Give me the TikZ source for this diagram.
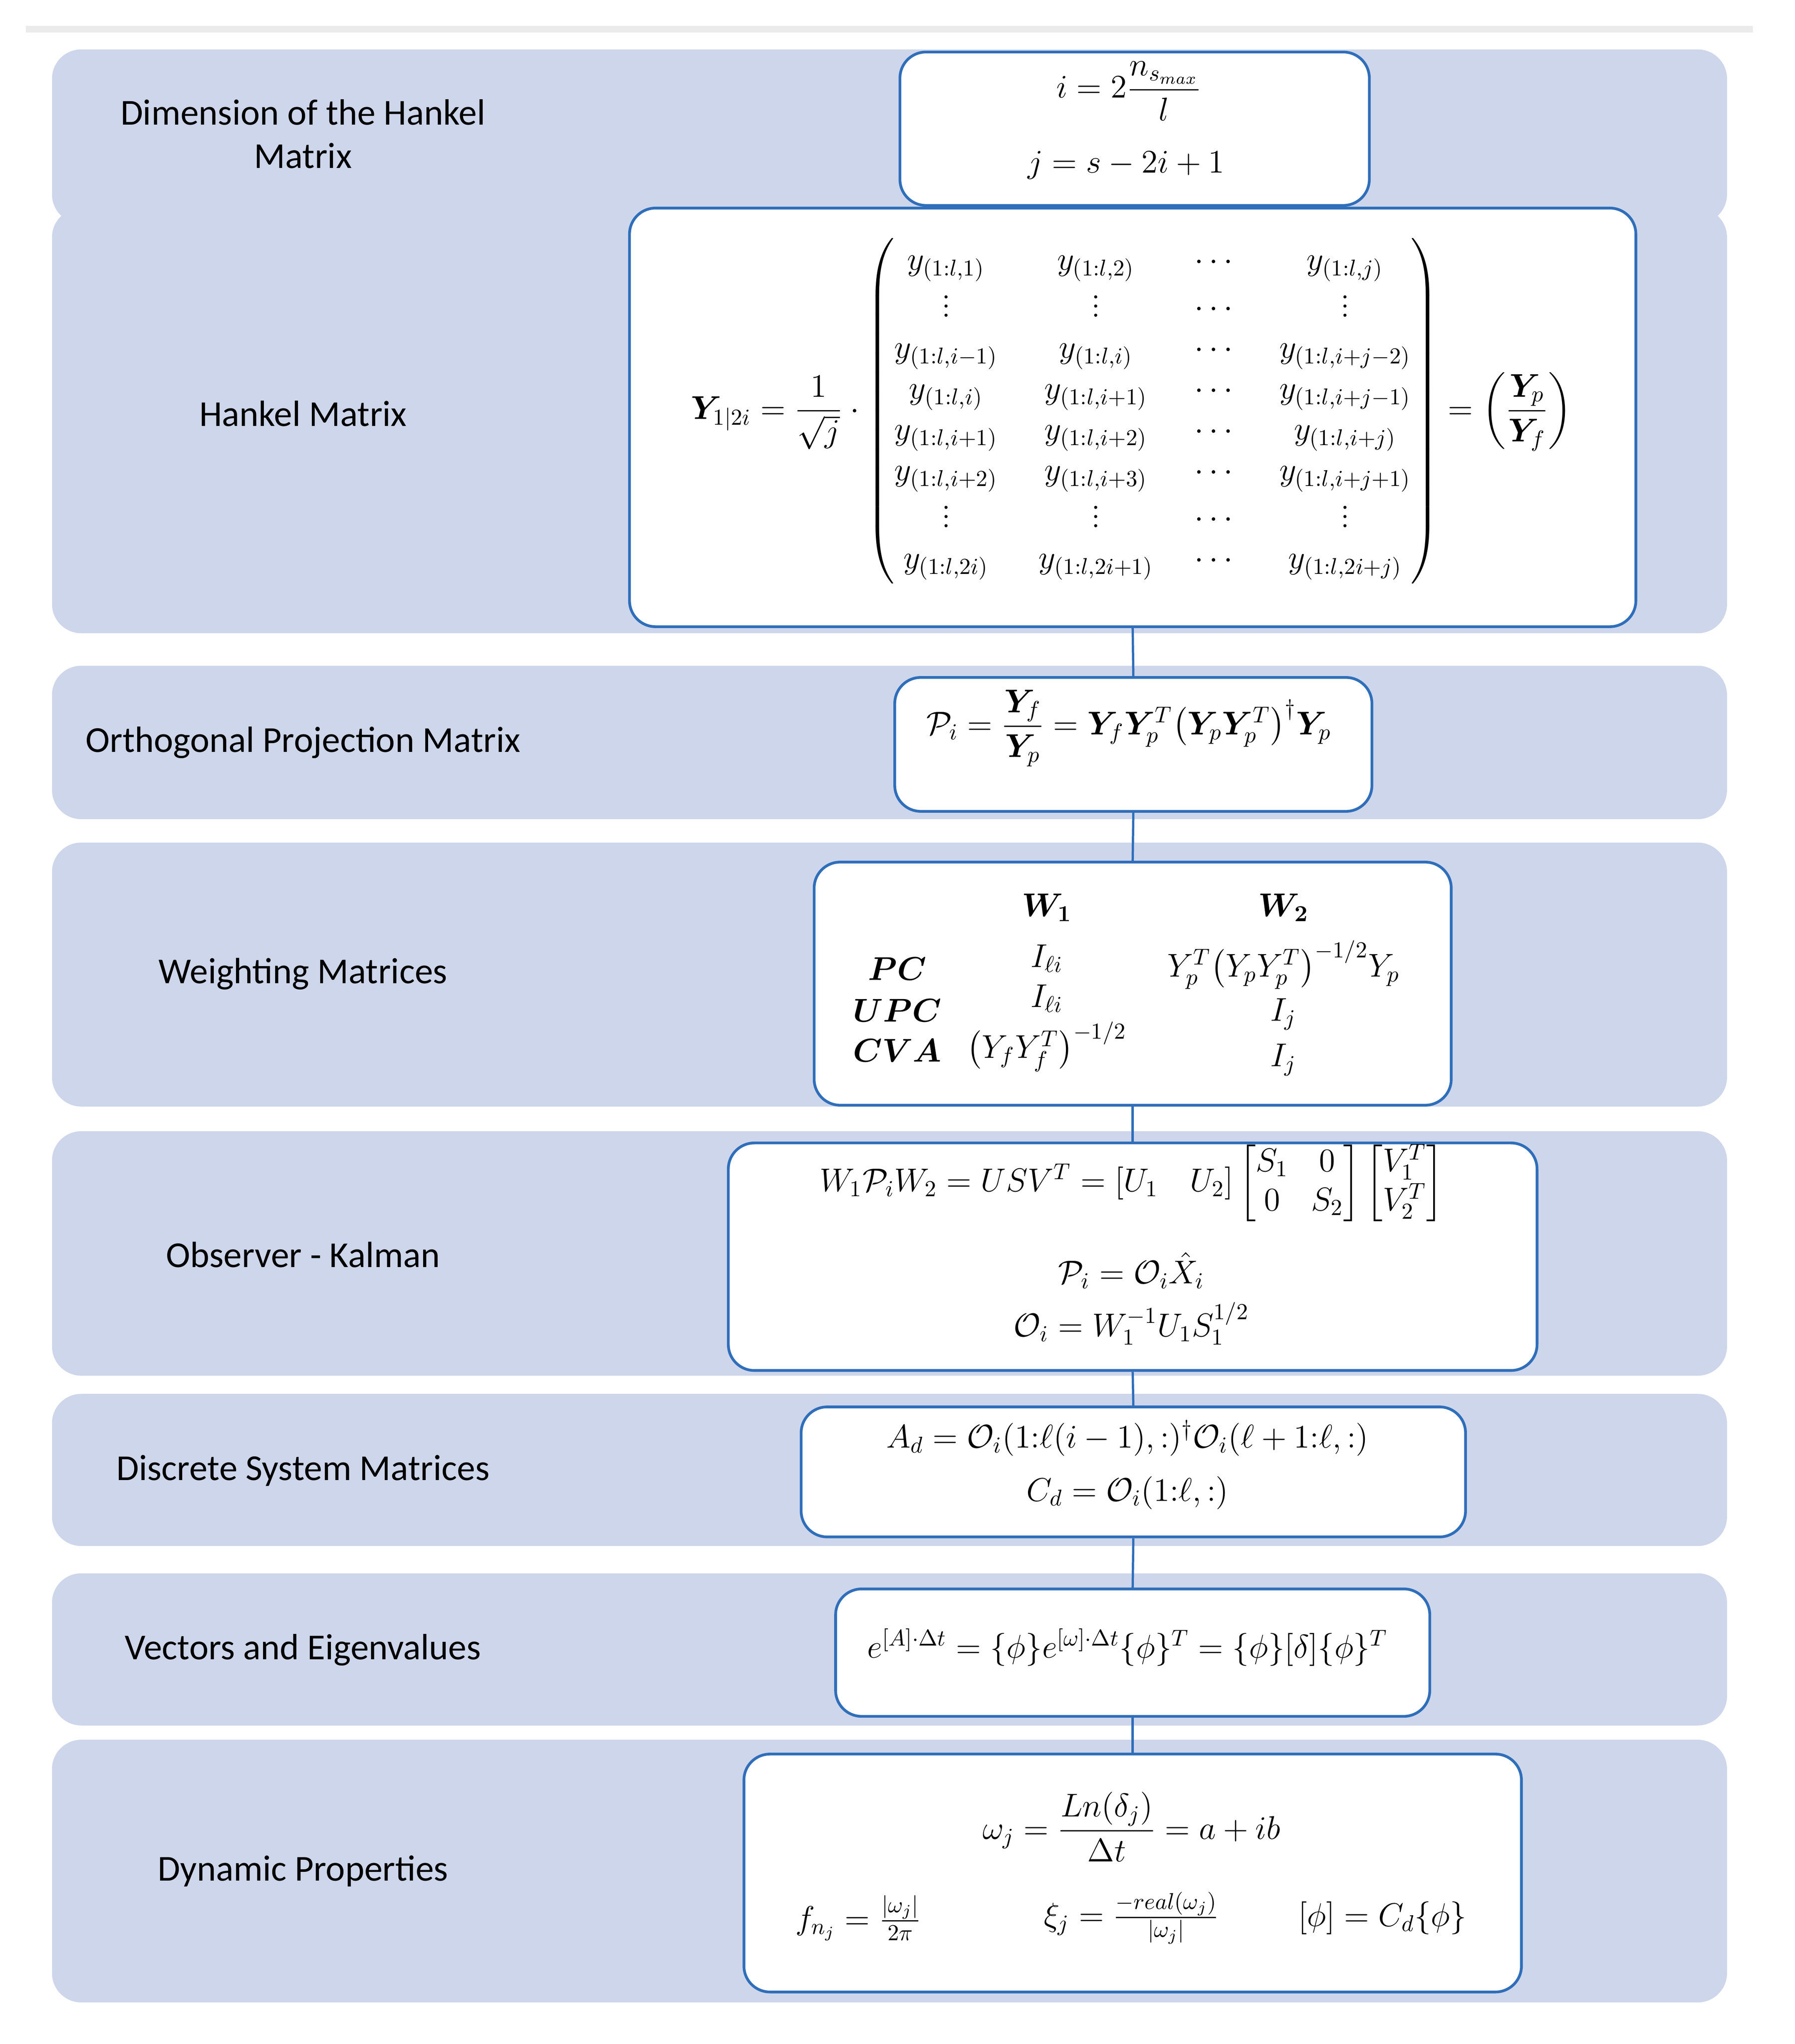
\documentclass[tikz,border=0pt]{standalone}
\usepackage{amsmath,amssymb,bm}
\usepackage{fontspec}
\newfontfamily\lblfont{Carlito}
\definecolor{bandc}{HTML}{CDD6EA}
\definecolor{bordc}{HTML}{2F6EBA}
\begin{document}
\begin{tikzpicture}[x=0.02cm,y=-0.02cm,
  band/.style={fill=bandc,rounded corners=0.45cm},
  wbox/.style={draw=bordc,fill=white,line width=1.2pt,rounded corners=0.4cm,inner sep=0pt},
  lbl/.style={font=\lblfont\fontsize{16}{19}\selectfont,align=center},
  eq/.style={font=\fontsize{14}{17}\selectfont,inner sep=0pt},
  conn/.style={draw=bordc,line width=1pt}]
\useasboundingbox (0,0) rectangle (1380,1572);
\fill[black!8] (20,20) rectangle (1348,25);
% bands
\fill[band] (40,38) rectangle (1328,172);
\fill[band] (40,160) rectangle (1328,487);
\fill[band] (40,512) rectangle (1328,630);
\fill[band] (40,648) rectangle (1328,851);
\fill[band] (40,870) rectangle (1328,1058);
\fill[band] (40,1072) rectangle (1328,1189);
\fill[band] (40,1210) rectangle (1328,1327);
\fill[band] (40,1338) rectangle (1328,1540);
% labels
\node[lbl] (l1) at (233,103) {Dimension of the Hankel\\Matrix};
\node[lbl] (l2) at (233,318) {Hankel Matrix};
\node[lbl] (l3) at (233,571) {Orthogonal Projection Matrix};
\node[lbl] (l4) at (233,749) {Weighting Matrices};
\node[lbl] (l5) at (233,965) {Observer - Kalman};
\node[lbl] (l6) at (233,1131) {Discrete System Matrices};
\node[lbl] (l7) at (233,1269) {Vectors and Eigenvalues};
\node[lbl] (l8) at (233,1439) {Dynamic Properties};
% boxes
\node[wbox,minimum width=7.22cm,minimum height=2.36cm] (b1) at (872.5,99) {};
\node[wbox,minimum width=15.48cm,minimum height=6.44cm] (b2) at (871,321) {};
\node[wbox,minimum width=7.34cm,minimum height=2.06cm] (b3) at (871.5,572.5) {};
\node[wbox,minimum width=9.8cm,minimum height=3.74cm] (b4) at (871,756.5) {};
\node[wbox,minimum width=12.44cm,minimum height=3.5cm] (b5) at (871,966.5) {};
\node[wbox,minimum width=10.22cm,minimum height=2.0cm] (b6) at (871.5,1132) {};
\node[wbox,minimum width=9.14cm,minimum height=1.96cm] (b7) at (871,1271) {};
\node[wbox,minimum width=11.96cm,minimum height=3.66cm] (b8) at (871,1440.5) {};
\draw[conn] (b2.south) -- (b3.north);
\draw[conn] (b3.south) -- (b4.north);
\draw[conn] (b4.south) -- (b5.north);
\draw[conn] (b5.south) -- (b6.north);
\draw[conn] (b6.south) -- (b7.north);
\draw[conn] (b7.south) -- (b8.north);
% box 1
\node[eq] (e1a) at (868,70) {$i=2\dfrac{n_{s_{max}}}{l}$};
\node[eq] (e1b) at (866,127) {$j=s-2i+1$};
% box 2
\node[eq,font=\fontsize{14}{17}\selectfont] (e2) at (870,316) {$\bm{Y}_{1|2i}=\dfrac{1}{\sqrt{j}}\cdot
\renewcommand{\arraystretch}{1.05}\setlength{\arraycolsep}{9pt}
\begin{pmatrix}
y_{(1:l,1)} & y_{(1:l,2)} & \cdots & y_{(1:l,j)}\\
\vdots & \vdots & \cdots & \vdots\\
y_{(1:l,i-1)} & y_{(1:l,i)} & \cdots & y_{(1:l,i+j-2)}\\
y_{(1:l,i)} & y_{(1:l,i+1)} & \cdots & y_{(1:l,i+j-1)}\\
y_{(1:l,i+1)} & y_{(1:l,i+2)} & \cdots & y_{(1:l,i+j)}\\
y_{(1:l,i+2)} & y_{(1:l,i+3)} & \cdots & y_{(1:l,i+j+1)}\\
\vdots & \vdots & \cdots & \vdots\\
y_{(1:l,2i)} & y_{(1:l,2i+1)} & \cdots & y_{(1:l,2i+j)}
\end{pmatrix}=\left(\dfrac{\bm{Y}_p}{\bm{Y}_f}\right)$};
% box 3
\node[eq] (e3) at (868,560) {$\mathcal{P}_i=\dfrac{\bm{Y}_f}{\bm{Y}_p}=\bm{Y}_f\bm{Y}_p^T\big(\bm{Y}_p\bm{Y}_p^T\big)^{\dagger}\bm{Y}_p$};
% box 4
\node[eq] (w1) at (805,698) {$\bm{W_1}$};
\node[eq] (w2) at (987,698) {$\bm{W_2}$};
\node[eq] (pc) at (690,745) {$\bm{PC}$};
\node[eq] (upc) at (690,777) {$\bm{UPC}$};
\node[eq] (cva) at (690,808) {$\bm{CVA}$};
\node[eq] (w1a) at (805,737) {$I_{\ell i}$};
\node[eq] (w1b) at (805,768) {$I_{\ell i}$};
\node[eq] (w1c) at (805,805) {$\big(Y_fY_f^T\big)^{-1/2}$};
\node[eq] (w2a) at (987,742) {$Y_p^T\big(Y_pY_p^T\big)^{-1/2}Y_p$};
\node[eq] (w2b) at (987,780) {$I_j$};
\node[eq] (w2c) at (987,815) {$I_j$};
% box 5
\node[eq] (e5a) at (870,910) {$W_1\mathcal{P}_iW_2=USV^T=[U_1\quad U_2]\begin{bmatrix}S_1&0\\0&S_2\end{bmatrix}\begin{bmatrix}V_1^T\\V_2^T\end{bmatrix}$};
\node[eq] (e5b) at (870,977) {$\mathcal{P}_i=\mathcal{O}_i\hat{X}_i$};
\node[eq] (e5c) at (870,1018) {$\mathcal{O}_i=W_1^{-1}U_1S_1^{1/2}$};
% box 6
\node[eq] (e6a) at (867,1106) {$A_d=\mathcal{O}_i(1{:}\ell(i-1),:)^{\dagger}\mathcal{O}_i(\ell+1{:}\ell,:)$};
\node[eq] (e6b) at (867,1148) {$C_d=\mathcal{O}_i(1{:}\ell,:)$};
% box 7
\node[eq] (e7) at (867,1267) {$e^{[A]\cdot\Delta t}=\{\phi\}e^{[\omega]\cdot\Delta t}\{\phi\}^T=\{\phi\}[\delta]\{\phi\}^T$};
% box 8
\node[eq] (e8a) at (870,1405) {$\omega_j=\dfrac{Ln(\delta_j)}{\Delta t}=a+ib$};
\node[eq] (e8b) at (660,1475) {$f_{n_j}=\frac{|\omega_j|}{2\pi}$};
\node[eq] (e8c) at (870,1475) {$\xi_j=\frac{-real(\omega_j)}{|\omega_j|}$};
\node[eq] (e8d) at (1063,1475) {$[\phi]=C_d\{\phi\}$};
\end{tikzpicture}
\end{document}
